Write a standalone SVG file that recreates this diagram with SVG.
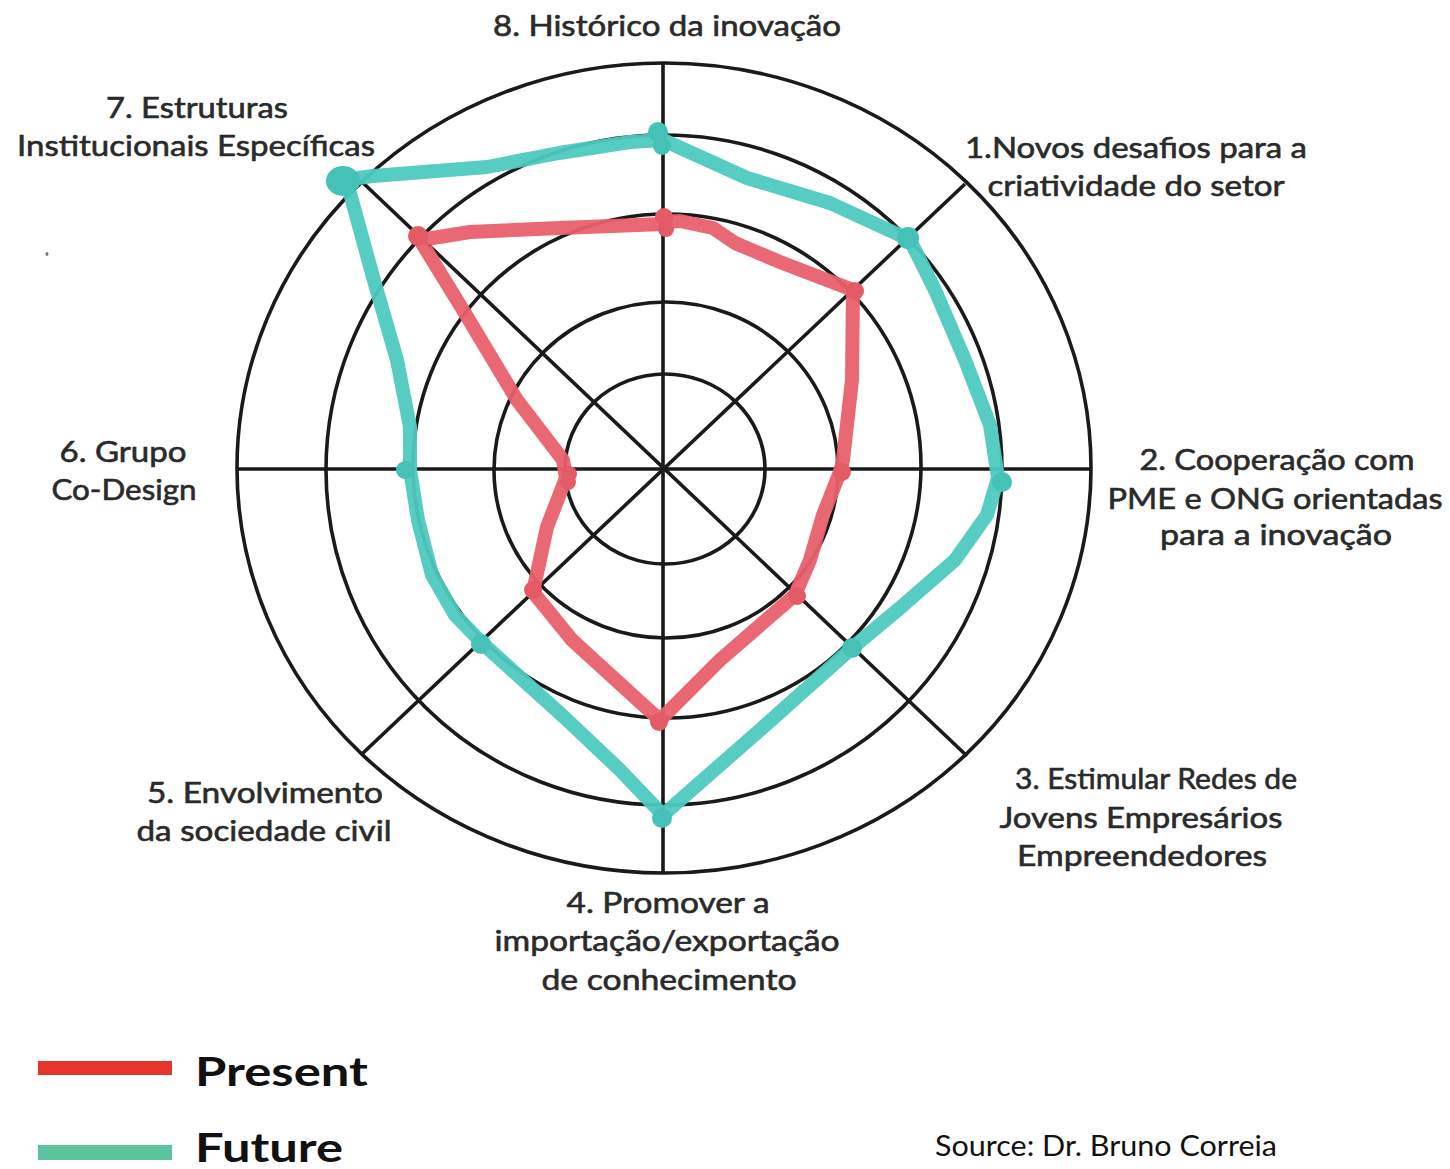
<svg xmlns="http://www.w3.org/2000/svg" width="1450" height="1169" viewBox="0 0 1450 1169">
<style>
.grid{fill:none;stroke:#1a1a1a;stroke-width:3.6}
.lbl{font-family:Lato,"Open Sans","Liberation Sans",sans-serif;font-size:29px;fill:#2a2a2a;stroke:#2a2a2a;stroke-width:0.6;text-anchor:middle}
.present{fill:none;stroke:#e9606c;stroke-width:14;stroke-linejoin:round;stroke-linecap:round;opacity:0.95}
.future{fill:none;stroke:#4ec9bf;stroke-width:14;stroke-linejoin:round;stroke-linecap:round;opacity:0.95}
.pdot{fill:#e45a66}
.fdot{fill:#45c1b7}
.leg{font-family:Lato,"Open Sans","Liberation Sans",sans-serif;font-weight:bold;font-size:40px;fill:#111}
.src{font-family:Lato,"Open Sans","Liberation Sans",sans-serif;font-size:29px;fill:#111}
</style>
<rect width="1450" height="1169" fill="#ffffff"/>
<g id="grid">
<ellipse class="grid" cx="665" cy="469" rx="100" ry="95"/>
<ellipse class="grid" cx="666" cy="470" rx="172" ry="168"/>
<ellipse class="grid" cx="667" cy="466" rx="254" ry="252"/>
<ellipse class="grid" cx="664" cy="470" rx="338" ry="335"/>
<ellipse class="grid" cx="664" cy="468" rx="427" ry="405"/>
<line class="grid" x1="237" y1="469" x2="1091" y2="469"/>
<line class="grid" x1="663" y1="63" x2="663" y2="873"/>
<line class="grid" x1="965" y1="184" x2="362" y2="754"/>
<line class="grid" x1="360" y1="180" x2="967" y2="756"/>
</g>
<g id="series-present">
<polyline class="present" points="663,222 680,221 713,228 735,243 780,262 853,290 852,380 843,460 840,472 823,515 810,560 795,595 720,660 660,720 640,702 572,640 533,592 547,527 566,478 563,460 517,400 463,310 420,240 470,232 560,228 663,224"/>
<circle class="pdot" cx="664" cy="217" r="9"/>
<circle class="pdot" cx="666" cy="229" r="8"/>
<circle class="pdot" cx="855" cy="291" r="9"/>
<circle class="pdot" cx="842" cy="472" r="9"/>
<circle class="pdot" cx="797" cy="596" r="9"/>
<circle class="pdot" cx="659" cy="722" r="9"/>
<circle class="pdot" cx="533" cy="590" r="9"/>
<circle class="pdot" cx="569" cy="474" r="8"/>
<circle class="pdot" cx="568" cy="482" r="8"/>
<circle class="pdot" cx="418" cy="236" r="10"/>
</g>
<g id="series-future">
<polyline class="future" points="663,140 747,178 830,203 893,232 910,240 935,290 965,360 990,425 998,478 987,515 955,560 900,608 852,648 760,730 663,815 620,770 564,717 482,643 455,615 432,575 418,520 410,470 410,427 397,360 373,277 350,193 343,180 373,176 487,167 559,153 630,142 663,140"/>
<circle class="fdot" cx="658" cy="132" r="10"/>
<circle class="fdot" cx="662" cy="146" r="9"/>
<circle class="fdot" cx="908" cy="238" r="11"/>
<circle class="fdot" cx="1002" cy="482" r="10"/>
<circle class="fdot" cx="852" cy="648" r="10"/>
<circle class="fdot" cx="662" cy="818" r="10"/>
<circle class="fdot" cx="481" cy="644" r="10"/>
<circle class="fdot" cx="405" cy="470" r="9"/>
<ellipse class="fdot" cx="343" cy="181" rx="17" ry="15"/>
</g>
<g id="labels">
<g id="label-8"><text class="lbl" x="667" y="36" textLength="348" lengthAdjust="spacingAndGlyphs">8. Histórico da inovação</text></g>
<g id="label-7"><text class="lbl" x="197" y="118" textLength="182" lengthAdjust="spacingAndGlyphs">7. Estruturas</text>
<text class="lbl" x="196" y="156" textLength="358" lengthAdjust="spacingAndGlyphs">Institucionais Específicas</text></g>
<g id="label-1"><text class="lbl" x="1136" y="158" textLength="342" lengthAdjust="spacingAndGlyphs">1.Novos desafios para a</text>
<text class="lbl" x="1136" y="196" textLength="297" lengthAdjust="spacingAndGlyphs">criatividade do setor</text></g>
<g id="label-2"><text class="lbl" x="1277" y="470" textLength="275" lengthAdjust="spacingAndGlyphs">2. Cooperação com</text>
<text class="lbl" x="1275" y="509" textLength="335" lengthAdjust="spacingAndGlyphs">PME e ONG orientadas</text>
<text class="lbl" x="1276" y="545" textLength="232" lengthAdjust="spacingAndGlyphs">para a inovação</text></g>
<g id="label-3"><text class="lbl" x="1156" y="789" textLength="282" lengthAdjust="spacingAndGlyphs">3. Estimular Redes de</text>
<text class="lbl" x="1141" y="828" textLength="283" lengthAdjust="spacingAndGlyphs">Jovens Empresários</text>
<text class="lbl" x="1142" y="866" textLength="250" lengthAdjust="spacingAndGlyphs">Empreendedores</text></g>
<g id="label-4"><text class="lbl" x="668" y="913" textLength="203" lengthAdjust="spacingAndGlyphs">4. Promover a</text>
<text class="lbl" x="667" y="951" textLength="345" lengthAdjust="spacingAndGlyphs">importação/exportação</text>
<text class="lbl" x="669" y="990" textLength="255" lengthAdjust="spacingAndGlyphs">de conhecimento</text></g>
<g id="label-5"><text class="lbl" x="265" y="803" textLength="236" lengthAdjust="spacingAndGlyphs">5. Envolvimento</text>
<text class="lbl" x="264" y="841" textLength="255" lengthAdjust="spacingAndGlyphs">da sociedade civil</text></g>
<g id="label-6"><text class="lbl" x="123" y="462" textLength="127" lengthAdjust="spacingAndGlyphs">6. Grupo</text>
<text class="lbl" x="124" y="500" textLength="145" lengthAdjust="spacingAndGlyphs">Co-Design</text></g>
</g>
<ellipse cx="47" cy="254" rx="1.5" ry="2" fill="#777"/>
<g id="legend">
<g id="legend-present"><rect x="38" y="1061" width="134" height="14" fill="#e8352c"/>
<text class="leg" x="195" y="1086" textLength="173" lengthAdjust="spacingAndGlyphs">Present</text></g>
<g id="legend-future"><rect x="38" y="1145" width="134" height="15" fill="#5cc49c"/>
<text class="leg" x="195" y="1162" textLength="148" lengthAdjust="spacingAndGlyphs">Future</text></g>
</g>
<g id="source"><text class="src" x="935" y="1156" textLength="342" lengthAdjust="spacingAndGlyphs">Source: Dr. Bruno Correia</text></g>
</svg>
